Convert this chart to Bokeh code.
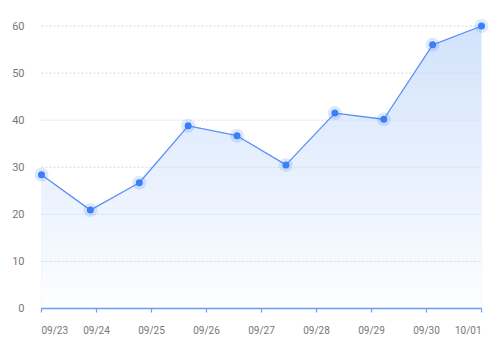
import numpy as np
from bokeh.plotting import figure
from bokeh.models import Range1d, FixedTicker, ColumnDataSource
from bokeh.embed import file_html
from bokeh.resources import INLINE

# ---- data ----
tick_labels = ["09/23", "09/24", "09/25", "09/26", "09/27", "09/28", "09/29", "09/30", "10/01"]
tick_pos = list(range(len(tick_labels)))          # day index of each label
n_points = 10
point_x = [i * (len(tick_labels) - 1) / (n_points - 1) for i in range(n_points)]
values = [28.4, 20.9, 26.7, 38.8, 36.7, 30.5, 41.5, 40.2, 56.0, 60.0]
y_ticks = [0, 10, 20, 30, 40, 50, 60]

BLUE = "#3b7ff5"
LINE = "#5b8ff9"
AXIS = "#6c9af5"
FONT = "Roboto"
PX = 4.708  # pixels per value unit

p = figure(width=500, height=356, output_backend="svg", toolbar_location=None,
           x_range=Range1d(-0.127, 8.145), y_range=Range1d(-44 / PX, 62.87),
           min_border_left=34, min_border_right=11, min_border_top=12, min_border_bottom=4)
p.outline_line_color = None
p.xgrid.visible = False
p.ygrid.visible = False
p.xaxis.visible = False

# area with vertical gradient: base colour + a white veil image fading upward
p.varea(x=point_x, y1=values, y2=y_ticks[0], fill_color="#d3e3fc", fill_alpha=1.0)
rows = 300
frac = (np.arange(rows) + 0.5) / rows            # 0 at bottom, 1 at top
alpha = np.round(255 * 0.95 * (1 - frac)).astype(np.uint32)
veil = np.zeros((rows, 2), dtype=np.uint32)
veil[:, :] = ((alpha << 24) | 0x00FFFFFF)[:, None]
p.image_rgba(image=[veil], x=tick_pos[0], y=y_ticks[0],
             dw=tick_pos[-1] - tick_pos[0], dh=max(values) - y_ticks[0])

# dotted horizontal grid lines from first to last tick
gx = [[tick_pos[0], tick_pos[-1]] for _ in y_ticks[1:]]
gy = [[v, v] for v in y_ticks[1:]]
p.multi_line(xs=gx, ys=gy, line_color="#cbdaf3", line_width=1, line_dash="2 2")

# x axis drawn inside the frame: line, ticks, labels
p.line(x=[tick_pos[0], tick_pos[-1]], y=[y_ticks[0], y_ticks[0]], line_color=AXIS, line_width=1.3)
p.segment(x0=tick_pos, y0=[y_ticks[0]] * len(tick_pos), x1=tick_pos,
          y1=[y_ticks[0] - 4 / PX] * len(tick_pos), line_color=AXIS, line_width=1.2)
aligns = ["left"] + ["center"] * (len(tick_labels) - 2) + ["right"]
src = ColumnDataSource(dict(x=tick_pos, y=[y_ticks[0] - 22 / PX] * len(tick_pos),
                            text=tick_labels, align=aligns))
p.text(x="x", y="y", text="text", text_align="align", text_baseline="middle", source=src,
       text_font={"value": FONT}, text_font_size="10px", text_color="#777777")

# line + points
p.line(point_x, values, line_color=LINE, line_width=1.3)
p.scatter(point_x, values, size=14, fill_color=BLUE, fill_alpha=0.18, line_color=None)
p.scatter(point_x, values, size=7, fill_color=BLUE, line_color=None)

# y axis
ya = p.yaxis[0]
ya.ticker = FixedTicker(ticks=y_ticks)
ya.axis_line_color = None
ya.major_tick_line_color = None
ya.minor_tick_line_color = None
ya.major_label_standoff = 4
ya.major_label_text_font = FONT
ya.major_label_text_font_size = "11px"
ya.major_label_text_color = "#777777"

open("out.html", "w").write(file_html(p, INLINE))
